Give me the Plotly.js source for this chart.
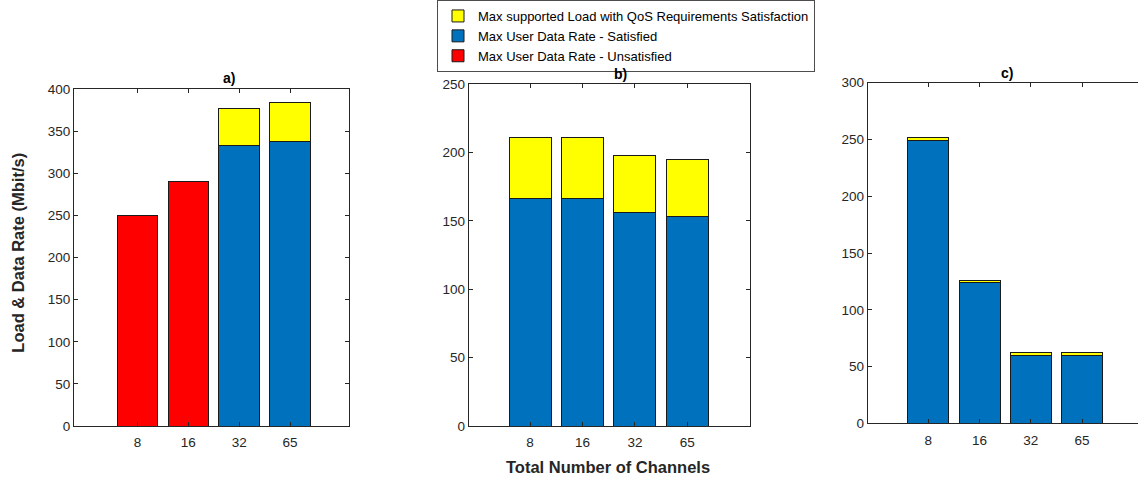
<!DOCTYPE html>
<html>
<head>
<meta charset="utf-8">
<script src="https://cdn.plot.ly/plotly-3.0.1.min.js"></script>
<style>html,body{margin:0;padding:0;background:#fff;}#chart{width:1138px;height:479px;}</style>
</head>
<body>
<div id="chart"></div>
<script>
// ---- data ----
const channels = ['8', '16', '32', '65'];
// Panel a
const aUnsatisfied = [250, 291, null, null];
const aSatisfied   = [null, null, 333, 338];
const aExtraLoad   = [null, null, 44, 46];
// Panel b
const bSatisfied   = [166, 166, 156, 153];
const bExtraLoad   = [45, 45, 42, 42];
// Panel c
const cSatisfied   = [249, 124, 60, 60];
const cExtraLoad   = [2.3, 2, 2, 2];

const names = {
  yellow: 'Max supported Load with QoS Requirements Satisfaction',
  blue: 'Max User Data Rate - Satisfied',
  red: 'Max User Data Rate - Unsatisfied'
};
const colors = {yellow: '#FFFF00', blue: '#0072BD', red: '#FF0000'};
const edge = {color: '#1a1a1a', width: 1};

function bar(y, key, xa, ya, show) {
  return {
    type: 'bar', x: channels, y: y, name: names[key],
    marker: {color: colors[key], line: edge},
    xaxis: xa, yaxis: ya, legendgroup: key, showlegend: show,
    legendrank: key === 'yellow' ? 1 : key === 'blue' ? 2 : 3,
    hoverinfo: 'x+y+name'
  };
}

const data = [
  bar(aUnsatisfied, 'red', 'x', 'y', true),
  bar(aSatisfied, 'blue', 'x', 'y', true),
  bar(aExtraLoad, 'yellow', 'x', 'y', true),
  bar(bSatisfied, 'blue', 'x2', 'y2', false),
  bar(bExtraLoad, 'yellow', 'x2', 'y2', false),
  bar(cSatisfied, 'blue', 'x3', 'y3', false),
  bar(cExtraLoad, 'yellow', 'x3', 'y3', false)
];

const W = 1138, H = 479;
const axCol = '#262626';
const FAM = 'Liberation Sans, Arial, sans-serif';
const tickFont = {family: FAM, size: 13.5, color: axCol};

function xax(dom, range, yref, mirror) {
  return {domain: dom, range: range, type: 'category', anchor: yref,
    showline: true, linecolor: axCol, linewidth: 1, mirror: mirror,
    ticks: 'inside', ticklen: 4, tickcolor: axCol, tickfont: tickFont,
    ticklabelstandoff: 4,
    showgrid: false, zeroline: false, fixedrange: true};
}
function yax(dom, range, xref, mirror) {
  return {domain: dom, range: range, anchor: xref, dtick: 50, tick0: 0,
    showline: true, linecolor: axCol, linewidth: 1, mirror: mirror,
    ticks: 'inside', ticklen: 4, tickcolor: axCol, tickfont: tickFont,
    showgrid: false, zeroline: false, fixedrange: true};
}

const px = v => v / W;
const py = v => (H - v) / H;

const layout = {
  width: W, height: H,
  margin: {l: 0, r: 0, t: 0, b: 0},
  paper_bgcolor: '#fff', plot_bgcolor: '#fff',
  barmode: 'stack', bargap: 0.2,
  font: {family: FAM, color: axCol},
  xaxis:  xax([px(74), px(349)], [-1.25, 4.16], 'y', 'ticks'),
  yaxis:  yax([py(426), py(89.3)], [0, 400], 'x', 'ticks'),
  xaxis2: xax([px(468.7), px(750.3)], [-1.17, 4.2], 'y2', 'ticks'),
  yaxis2: yax([py(426), py(84)], [0, 250], 'x2', 'ticks'),
  xaxis3: xax([px(867.7), 1], [-1.18, 4.09], 'y3', 'ticks'),
  yaxis3: yax([py(423.3), py(82.7)], [0, 300], 'x3', false),
  legend: {x: px(437), y: 1, xanchor: 'left', yanchor: 'top',
    bgcolor: 'rgba(255,255,255,0)', bordercolor: '#4d4d4d', borderwidth: 1,
    font: {family: FAM, size: 13, color: '#000'},
    traceorder: 'normal', tracegroupgap: 0, itemwidth: 30},
  annotations: [
    {text: '<b>a)</b>', x: px(229), y: py(78), xref: 'paper', yref: 'paper', showarrow: false,
     font: {size: 14, color: '#000'}, xanchor: 'center', yanchor: 'middle'},
    {text: '<b>b)</b>', x: px(620), y: py(74), xref: 'paper', yref: 'paper', showarrow: false,
     font: {size: 14, color: '#000'}, xanchor: 'center', yanchor: 'middle'},
    {text: '<b>c)</b>', x: px(1006.7), y: py(72.7), xref: 'paper', yref: 'paper', showarrow: false,
     font: {size: 14, color: '#000'}, xanchor: 'center', yanchor: 'middle'},
    {text: '<b>Load &amp; Data Rate (Mbit/s)</b>', x: px(18), y: py(252.7), xref: 'paper', yref: 'paper',
     showarrow: false, textangle: -90, font: {size: 16.5, color: axCol}, xanchor: 'center', yanchor: 'middle'},
    {text: '<b>Total Number of Channels</b>', x: px(608), y: py(467), xref: 'paper', yref: 'paper',
     showarrow: false, font: {size: 16.5, color: axCol}, xanchor: 'center', yanchor: 'middle'}
  ]
};

Plotly.newPlot('chart', data, layout, {displayModeBar: false, staticPlot: true});
</script>
</body>
</html>
